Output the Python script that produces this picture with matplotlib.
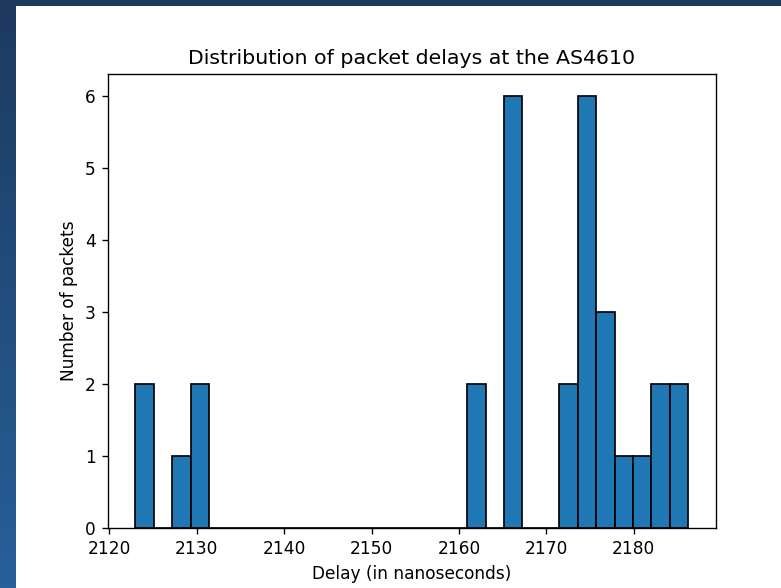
import numpy as np
import matplotlib
matplotlib.use("Agg")
import matplotlib.pyplot as plt

# Data (30 equal bins)
delay_min = 2122.97
delay_max = 2186.24
n_bins = 30
bin_counts = [2, 0, 1, 2, 0, 0, 0, 0, 0, 0,
              0, 0, 0, 0, 0, 0, 0, 0, 2, 0,
              6, 0, 0, 2, 6, 3, 1, 1, 2, 2]
x_ticks = [2120, 2130, 2140, 2150, 2160, 2170, 2180]
y_ticks = [0, 1, 2, 3, 4, 5, 6]

W, H = 781, 588
dpi = 122.7
fig = plt.figure(figsize=(W / dpi, H / dpi), dpi=dpi)
fig.patch.set_facecolor("white")

# Dark blue frame of the screenshot (left and top strips)
left_ax = fig.add_axes([0, 0, 16 / W, 1])
grad = np.linspace(0, 1, 256).reshape(-1, 1)
from matplotlib.colors import LinearSegmentedColormap
cmap = LinearSegmentedColormap.from_list("frame", ["#1d3a5e", "#27609a"])
left_ax.imshow(grad, aspect="auto", cmap=cmap, extent=[0, 1, 1, 0])
left_ax.set_axis_off()
top_ax = fig.add_axes([0, 1 - 6 / H, 1, 6 / H])
top_ax.set_facecolor("#1d3a5c")
top_ax.set_xticks([]); top_ax.set_yticks([])
for s in top_ax.spines.values():
    s.set_visible(False)

ax = fig.add_axes([107.6 / W, (H - 528) / H, (716 - 107.6) / W, (528 - 74) / H])
edges = np.linspace(delay_min, delay_max, n_bins + 1)
centers = (edges[:-1] + edges[1:]) / 2
ax.hist(centers, bins=edges, weights=bin_counts, color="#1f77b4", edgecolor="black")
ax.set_xticks(x_ticks)
ax.set_yticks(y_ticks)
ax.set_title("Distribution of packet delays at the AS4610")
ax.set_xlabel("Delay (in nanoseconds)")
ax.set_ylabel("Number of packets")

fig.savefig("out.png", dpi=dpi)
